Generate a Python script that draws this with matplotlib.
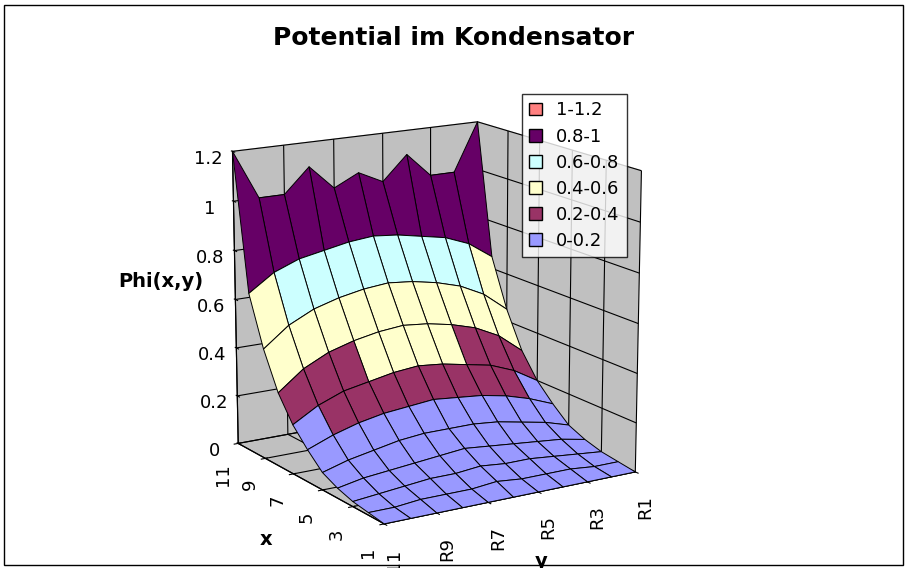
import numpy as np
import matplotlib.pyplot as plt
from matplotlib.patches import Patch, Rectangle
from matplotlib.colors import ListedColormap, BoundaryNorm

x_vals = np.arange(1, 12)
y_vals = np.arange(1, 12)
y_labels = ['R1', 'R3', 'R5', 'R7', 'R9', 'R11']
# Zeilen: x = 1 .. 11, Spalten: R1 .. R11
phi = np.array([
    [0, 0, 0, 0, 0, 0, 0, 0, 0, 0, 0],
    [0.01, 0.01, 0.02, 0.02, 0.02, 0.03, 0.02, 0.02, 0.02, 0.01, 0.01],
    [0.02, 0.03, 0.04, 0.05, 0.05, 0.06, 0.05, 0.05, 0.04, 0.03, 0.02],
    [0.04, 0.06, 0.07, 0.08, 0.09, 0.10, 0.09, 0.08, 0.07, 0.06, 0.04],
    [0.07, 0.10, 0.12, 0.14, 0.15, 0.15, 0.15, 0.14, 0.12, 0.10, 0.07],
    [0.13, 0.17, 0.20, 0.22, 0.23, 0.24, 0.23, 0.22, 0.20, 0.17, 0.13],
    [0.20, 0.26, 0.30, 0.32, 0.34, 0.35, 0.34, 0.32, 0.30, 0.26, 0.20],
    [0.30, 0.38, 0.43, 0.46, 0.48, 0.49, 0.48, 0.46, 0.43, 0.38, 0.30],
    [0.45, 0.53, 0.58, 0.61, 0.63, 0.64, 0.63, 0.61, 0.58, 0.53, 0.45],
    [0.65, 0.72, 0.76, 0.78, 0.80, 0.81, 0.80, 0.78, 0.76, 0.72, 0.65],
    [1.2, 1.0, 1.0, 1.1, 1.0, 1.05, 1.0, 1.1, 1.0, 1.0, 1.2],
])
bands = ['0-0.2', '0.2-0.4', '0.4-0.6', '0.6-0.8', '0.8-1', '1-1.2']
band_colors = ['#9999FF', '#993366', '#FFFFCC', '#CCFFFF', '#660066', '#FF8080']

cmap = ListedColormap(band_colors)
norm = BoundaryNorm([0, 0.2, 0.4, 0.6, 0.8, 1.0, 1.2001], cmap.N)

X, Y = np.meshgrid(x_vals, y_vals, indexing='ij')
cell = (phi[:-1, :-1] + phi[1:, :-1] + phi[:-1, 1:] + phi[1:, 1:]) / 4
cell = np.pad(cell, ((0, 1), (0, 1)), mode='edge')
fc = cmap(norm(cell))

fig = plt.figure(figsize=(9.08, 5.68), dpi=100)
fig.patches.append(Rectangle((0.004, 0.006), 0.99, 0.986, transform=fig.transFigure,
                             fill=False, edgecolor='black', linewidth=1))
ax = fig.add_axes([0.17, 0.0, 0.6, 0.88], projection='3d')
ax.plot_surface(X, Y, phi, facecolors=fc, shade=False, rstride=1, cstride=1,
                edgecolor='black', linewidth=0.7)
ax.view_init(elev=15, azim=148)
ax.set_box_aspect((1, 1, 1.05))
ax.set_xlim(1, 11)
ax.set_ylim(1, 11)
ax.set_zlim(0, 1.2)
ax.zaxis._axinfo['juggled'] = (1, 2, 0)

for a in (ax.xaxis, ax.yaxis, ax.zaxis):
    a.set_pane_color('#C0C0C0')
    a._axinfo['grid'].update(color='black', linewidth=0.8, linestyle='-')

ax.set_xticks([1, 3, 5, 7, 9, 11])
ax.set_xticklabels(['1', '3', '5', '7', '9', '11'], rotation=90, fontsize=13)
ax.set_yticks([1, 3, 5, 7, 9, 11])
ax.set_yticklabels(y_labels, rotation=90, fontsize=13)
ax.set_zticks([0, 0.2, 0.4, 0.6, 0.8, 1.0, 1.2])
ax.set_zticklabels(['0', '0.2', '0.4', '0.6', '0.8', '1', '1.2'], fontsize=13)
ax.set_xlabel('x', fontsize=14, fontweight='bold', labelpad=10)
ax.set_ylabel('y', fontsize=14, fontweight='bold', labelpad=10)
ax.set_zlabel('')
fig.text(0.13, 0.505, 'Phi(x,y)', fontsize=14, fontweight='bold', ha='left', va='center')

fig.text(0.5, 0.92, 'Potential im Kondensator', fontsize=18, fontweight='bold', ha='center')

handles = [Patch(facecolor=c, edgecolor='black', label=l)
           for l, c in zip(bands[::-1], band_colors[::-1])]
fig.legend(handles=handles, loc='upper left', bbox_to_anchor=(0.565, 0.85),
           fontsize=13, frameon=True, fancybox=False, edgecolor='black',
           handlelength=0.7, handleheight=0.7, borderpad=0.4, labelspacing=0.45)

plt.savefig('out.png', dpi=100)
